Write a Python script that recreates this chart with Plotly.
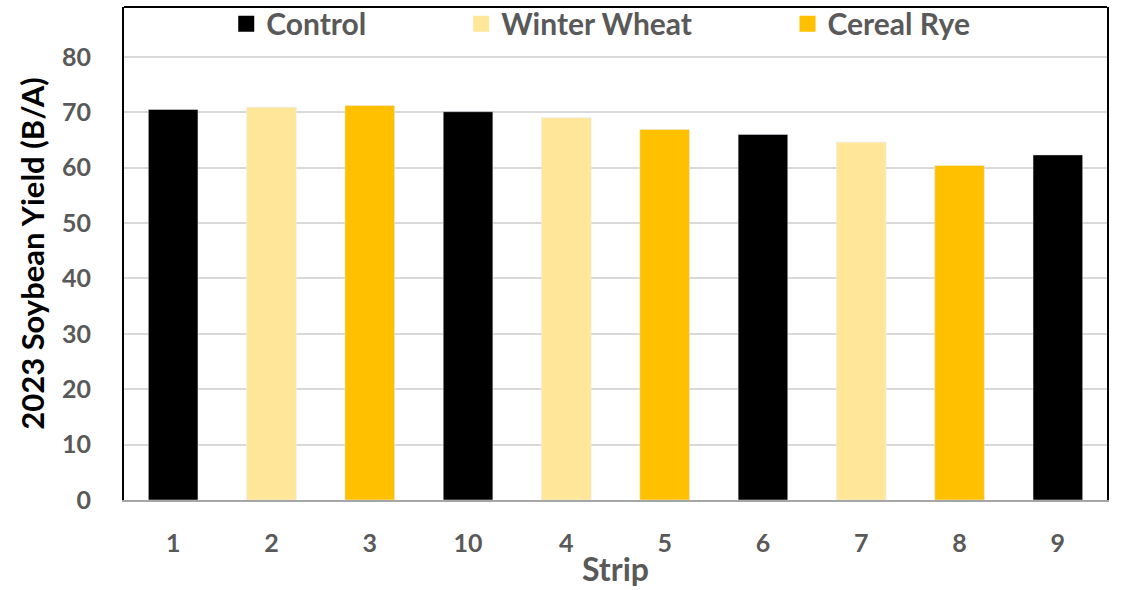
import plotly.graph_objects as go

# strip order as plotted, with treatment and yield (bu/A)
strips = ["1", "2", "3", "10", "4", "5", "6", "7", "8", "9"]
treatment = ["Control", "Winter Wheat", "Cereal Rye", "Control", "Winter Wheat",
             "Cereal Rye", "Control", "Winter Wheat", "Cereal Rye", "Control"]
yield_ba = [70.5, 70.9, 71.2, 70.1, 69.0, 66.9, 66.0, 64.6, 60.4, 62.3]

groups = ["Control", "Winter Wheat", "Cereal Rye"]
colors = {"Control": "#000000", "Winter Wheat": "#FFE699", "Cereal Rye": "#FFC000"}
legend_ids = {"Control": "legend", "Winter Wheat": "legend2", "Cereal Rye": "legend3"}

GRAY = "#595959"
FONT = "Lato"

fig = go.Figure()
for g in groups:
    xs = [s for s, t in zip(strips, treatment) if t == g]
    ys = [v for v, t in zip(yield_ba, treatment) if t == g]
    fig.add_trace(go.Bar(x=xs, y=ys, name=g, marker_color=colors[g],
                         width=0.505, showlegend=False))
    # legend proxy with a bigger square swatch
    fig.add_trace(go.Scatter(x=[None], y=[None], mode="markers", name=g,
                             marker=dict(symbol="square", size=16, color=colors[g]),
                             legend=legend_ids[g]))

leg_font = dict(family=FONT, size=30, color=GRAY, weight="bold")
leg_common = dict(font=leg_font, yanchor="middle", y=0.966, xanchor="left",
                  bgcolor="rgba(0,0,0,0)", borderwidth=0, itemsizing="trace")

fig.update_layout(
    width=1122, height=590,
    margin=dict(l=124, r=15, t=7, b=90, autoexpand=False),
    plot_bgcolor="white", paper_bgcolor="white",
    barmode="overlay",
    legend=dict(x=0.104, **leg_common),
    legend2=dict(x=0.343, **leg_common),
    legend3=dict(x=0.675, **leg_common),
    xaxis=dict(
        type="category", categoryorder="array", categoryarray=strips,
        title=dict(text="Strip", font=dict(family=FONT, size=32, color=GRAY, weight="bold"),
                   standoff=3),
        tickfont=dict(family=FONT, size=25, color=GRAY, weight="bold"),
        ticklabelstandoff=20,
        showline=True, linecolor="#a6a6a6", linewidth=2,
        showgrid=False,
    ),
    yaxis=dict(
        range=[0, 89], tickvals=[0, 10, 20, 30, 40, 50, 60, 70, 80],
        title=dict(text="2023 Soybean Yield (B/A)",
                   font=dict(family=FONT, size=31, color="black", weight="bold"),
                   standoff=8),
        tickfont=dict(family=FONT, size=25, color=GRAY, weight="bold"),
        ticklabelstandoff=26,
        showgrid=True, gridcolor="#d9d9d9", gridwidth=1.5,
        zeroline=False,
        showline=True, linecolor="black", linewidth=2, mirror=True,
    ),
    shapes=[dict(type="line", xref="paper", yref="paper", x0=0, x1=1, y0=1, y1=1,
                 line=dict(color="black", width=2))],
)

# drop the page's default body margin so the figure sits at the window corner
fig.write_html("out.html", config={"displayModeBar": False},
               post_script="document.body.style.margin='0';")
